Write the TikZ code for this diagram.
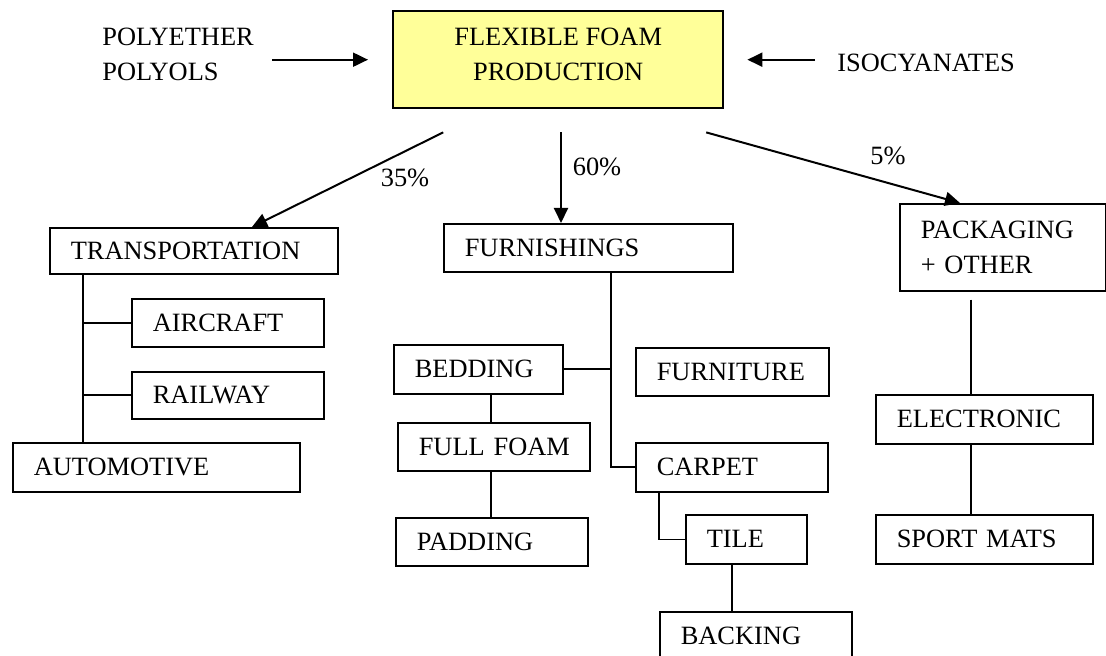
\documentclass[tikz,border=0pt]{standalone}
\usepackage{fontspec}
\setmainfont{Liberation Serif}
\usepackage{tikz}
\usetikzlibrary{arrows.meta,positioning}
\definecolor{FoamYellow}{HTML}{FFFF99}

\begin{document}
\begin{tikzpicture}[x=0.5pt,y=-0.5pt,
    font=\fontsize{13.2}{17.5}\selectfont,
    box/.style={draw, line width=0.8pt, anchor=north west, inner xsep=10.5pt,
      inner ysep=0pt, align=left},
    link/.style={line width=0.8pt},
    arr/.style={line width=1pt, -{Triangle[length=7.5pt,width=7pt]}},
    pct/.style={inner sep=0pt}]
  \useasboundingbox (0,0) rectangle (1106,656);
  \node[draw, line width=1.2pt, fill=FoamYellow, anchor=north west,
    minimum width=165pt, minimum height=48.5pt, text depth=5pt,
    align=center] (main) at (392,10) {FLEXIBLE FOAM\\PRODUCTION};
  \node[anchor=west, inner sep=0pt, align=left] (poly) at (102,54) {POLYETHER\\POLYOLS};
  \node[anchor=west, inner sep=0pt] (iso) at (837,63) {ISOCYANATES};
  \draw[arr, shorten <=9pt, shorten >=12pt] (poly.east |- main.west) -- (main.west);
  \draw[arr, shorten <=11pt, shorten >=11.5pt] (iso.west |- main.east) -- (main.east);
  \foreach \nm/\x/\y/\w/\h/\txt in {trans/49/227/288/46/TRANSPORTATION,
      air/131/298/192/48/AIRCRAFT, rail/131/371/192/47/RAILWAY,
      auto/12/442/287/49/AUTOMOTIVE, furn/443/223/289/48/FURNISHINGS,
      bed/393/344/169/49/BEDDING, furni/635/347/193/48/FURNITURE,
      full/397/422/192/48/FULL~FOAM, pad/395/517/192/48/PADDING,
      carp/635/442/192/49/CARPET, tile/685/514/121/49/TILE,
      back/659/611/192/48/BACKING, pack/899/203/206/87/PACKAGING\\+ OTHER,
      elec/875/394/217/49/ELECTRONIC, sport/875/514/217/49/SPORT~MATS}{
    \pgfmathsetmacro{\tw}{(\w-42)/2}
    \node[box, text width=\tw pt, minimum height=\h*0.5pt] (\nm) at (\x,\y) {\txt};
  }
  \coordinate (ms) at ([yshift=-11.5pt]main.south);
  \coordinate (e35) at ([xshift=101.5pt]trans.north west);
  \coordinate (e60) at ([xshift=59pt]furn.north west);
  \coordinate (e5) at ([xshift=30.5pt]pack.north west);
  \draw[arr] ([xshift=-57.5pt]ms) -- (e35);
  \draw[arr] (ms -| e60) -- (e60);
  \draw[arr] ([xshift=74pt]ms) -- (e5);
  \node[pct] (p35) at (405,178) {35\%};
  \node[pct] (p60) at (597,167) {60\%};
  \node[pct] (p5) at (888,156) {5\%};
  \coordinate (tj) at ([xshift=17pt]trans.south west);
  \draw[link] (tj) -- (tj |- auto.north);
  \draw[link] (air.west) -- (air.west -| tj);
  \draw[link] (rail.west) -- (rail.west -| tj);
  \coordinate (fj) at ([xshift=84pt]furn.south west);
  \draw[link] (fj) |- (carp.west);
  \draw[link] (bed.east) -- (bed.east -| fj);
  \coordinate (bj) at ([xshift=49pt]bed.south west);
  \draw[link] (bj) -- (bj |- full.north);
  \draw[link] (bj |- full.south) -- (bj |- pad.north);
  \draw[link] ([xshift=12pt]carp.south west) |- (tile.west);
  \coordinate (tj2) at ([xshift=23.5pt]tile.south west);
  \draw[link] (tj2) -- (tj2 |- back.north);
  \coordinate (pj) at ([xshift=48pt]elec.north west);
  \draw[link, shorten <=4pt] (pj |- pack.south) -- (pj);
  \draw[link] (pj |- elec.south) -- (pj |- sport.north);
\end{tikzpicture}
\end{document}
